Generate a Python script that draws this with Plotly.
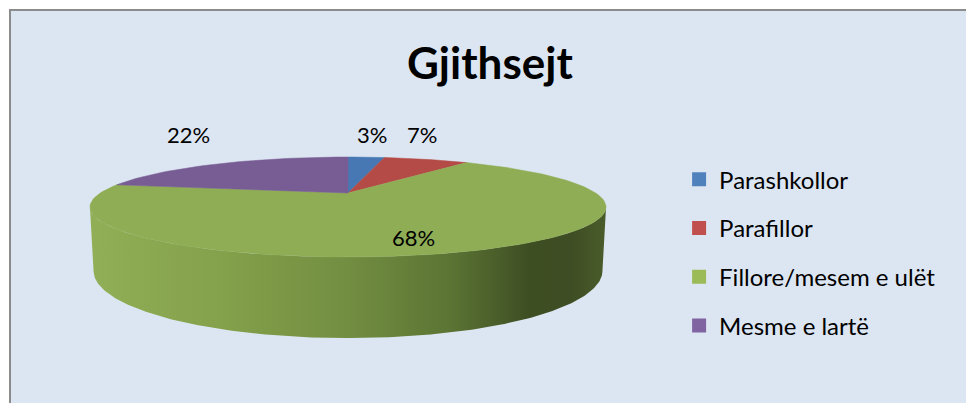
import numpy as np
import plotly.graph_objects as go

# ---- data ----
categories = ["Parashkollor", "Parafillor", "Fillore/mesem e ulët", "Mesme e lartë"]
values = [3, 7, 68, 22]
top_colors = ["#4878b3", "#b44b47", "#8fad55", "#785d94"]
legend_colors = ["#4f81bd", "#c0504d", "#9bbb59", "#8064a2"]
title_text = "Gjithsejt"

# ---- 3D perspective pie geometry (pixel space) ----
CX, CY = 348.0, 193.0          # projected centre of the top face
F, DIST = 868.7, 3.507          # focal scale and camera distance (radius = 1)
TILT_S, TILT_C = 0.186, 0.9826  # sin / cos of camera elevation
THICK = 0.2476                  # pie thickness (radius units)


def proj(theta, yv):
    x = np.sin(theta)
    z = np.cos(theta)
    depth = DIST + TILT_C * z - TILT_S * yv
    sx = CX + F * x / depth
    sy = CY - F * (TILT_C * yv + TILT_S * z) / depth
    return sx, sy


fig = go.Figure()

# side wall (visible front part of the cylinder)
c_lim = -1.0 / (DIST * TILT_C)
t0 = np.arccos(c_lim)
t1 = 2 * np.pi - t0
tt = np.linspace(t0, t1, 200)
xt, yt = proj(tt, 0.0)
xb, yb = proj(tt[::-1], -THICK)
wx = np.concatenate([xt, xb, xt[:1]])
wy = np.concatenate([yt, yb, yt[:1]])
fig.add_trace(go.Scatter(
    x=wx, y=wy, mode="lines", fill="toself", line=dict(width=0),
    fillgradient=dict(type="horizontal", colorscale=[
        [0.0, "#90af56"], [0.25, "#84a14b"], [0.5, "#728e41"],
        [0.7, "#5b7434"], [0.85, "#3e4e23"], [0.93, "#3e4d23"], [1.0, "#4a5c2b"]]),
    hoverinfo="skip", showlegend=False))

# top face slices
total = float(sum(values))
cum = 0.0
for cat, v, col in zip(categories, values, top_colors):
    a0 = 2 * np.pi * cum / total
    a1 = 2 * np.pi * (cum + v) / total
    cum += v
    n = max(int(200 * v / total), 8)
    aa = np.linspace(a0, a1, n)
    ax, ay = proj(aa, 0.0)
    px = np.concatenate([[CX], ax, [CX]])
    py = np.concatenate([[CY], ay, [CY]])
    fig.add_trace(go.Scatter(
        x=px, y=py, mode="lines", fill="toself", fillcolor=col,
        line=dict(width=0.5, color=col), hoverinfo="skip", showlegend=False))

# legend entries
for i, (cat, col) in enumerate(zip(categories, legend_colors)):
    fig.add_trace(go.Scatter(
        x=[None], y=[None], mode="markers", name=cat, legendgroup=str(i),
        marker=dict(symbol="square", size=14, color=col)))

# data labels
label_pos = [(372, 134), (422, 134), (413, 237), (188, 134)]
for v, (lx, ly) in zip(values, label_pos):
    fig.add_annotation(x=lx, y=ly, text=f"{round(100 * v / total)}%", showarrow=False,
                       font=dict(family="Lato", size=22, color="#000000"),
                       xanchor="center", yanchor="middle")

# title
fig.add_annotation(x=490, y=62, text=f"<b>{title_text}</b>", showarrow=False,
                   font=dict(family="Lato", size=44, color="#000000"),
                   xanchor="center", yanchor="middle")

fig.add_shape(type="rect", x0=10, y0=10, x1=980, y1=420,
              fillcolor="#dce6f2", line=dict(color="#8c8c8c", width=2), layer="below")

fig.update_layout(
    width=966, height=403, autosize=False,
    margin=dict(l=0, r=0, t=0, b=0, pad=0),
    paper_bgcolor="#ffffff", plot_bgcolor="rgba(0,0,0,0)",
    xaxis=dict(range=[0, 966], visible=False, fixedrange=True),
    yaxis=dict(range=[403, 0], visible=False, fixedrange=True),
    showlegend=True,
    legend=dict(x=0.703, y=0.373, xanchor="left", yanchor="middle",
                font=dict(family="Lato", size=24, color="#000000"),
                bgcolor="rgba(0,0,0,0)", tracegroupgap=14.5, itemwidth=30),
)

fig.write_html("out.html", config={"displayModeBar": False},
               post_script="document.body.style.margin='0';")
